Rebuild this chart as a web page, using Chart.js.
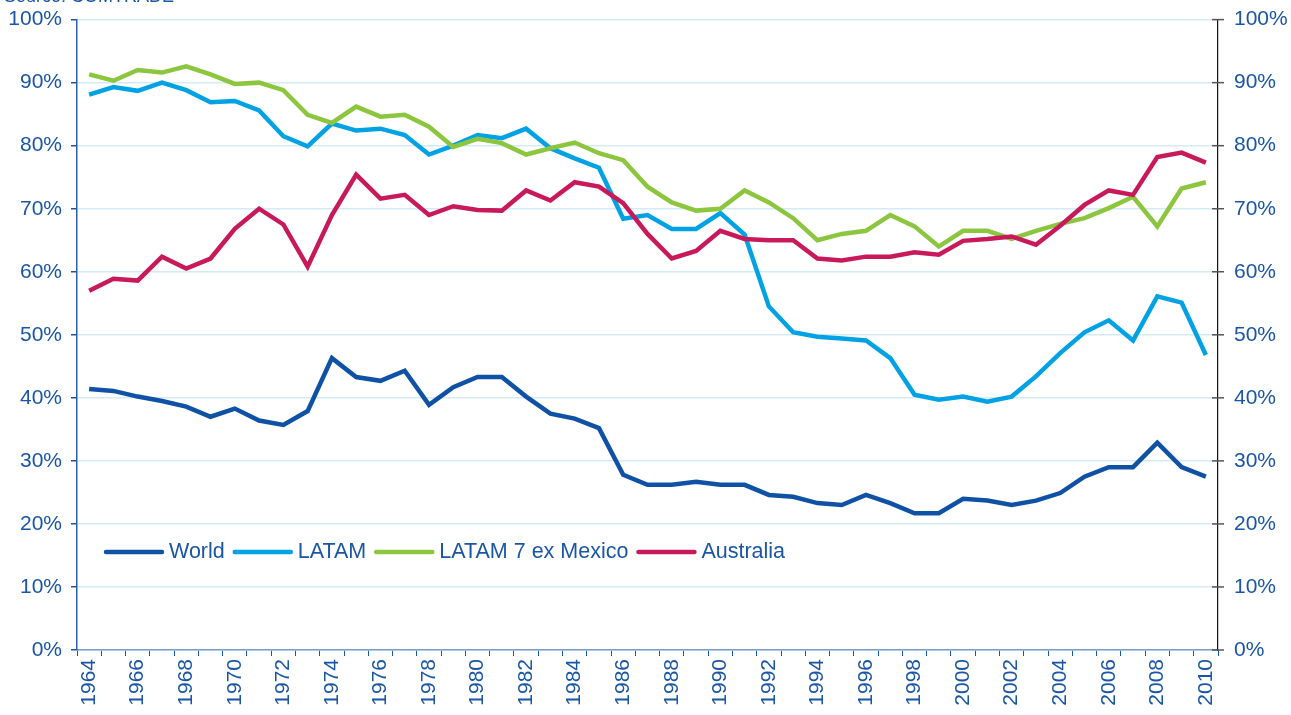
<!DOCTYPE html>
<html>
<head>
<meta charset="utf-8">
<script src="https://cdn.jsdelivr.net/npm/chart.js@4.4.1/dist/chart.umd.min.js"></script>
<style>
  html, body { margin: 0; padding: 0; background: #fff; overflow: hidden; }
  body { width: 1291px; height: 715px; position: relative; }
  #wrap { width: 1291px; height: 724px; position: absolute; left: 0; top: -9px; }
</style>
</head>
<body>
<div id="wrap"><canvas id="shareChart"></canvas></div>
<script>
// categories
const years = ['1964','1965','1966','1967','1968','1969','1970','1971','1972','1973',
  '1974','1975','1976','1977','1978','1979','1980','1981','1982','1983',
  '1984','1985','1986','1987','1988','1989','1990','1991','1992','1993',
  '1994','1995','1996','1997','1998','1999','2000','2001','2002','2003',
  '2004','2005','2006','2007','2008','2009','2010'];

// series (%)
const world = [41.4, 41.1, 40.2, 39.5, 38.6, 37.0, 38.3, 36.4, 35.7, 37.9,
  46.3, 43.3, 42.7, 44.3, 38.9, 41.7, 43.3, 43.3, 40.2, 37.5,
  36.7, 35.2, 27.8, 26.2, 26.2, 26.7, 26.2, 26.2, 24.6, 24.3,
  23.3, 23.0, 24.6, 23.3, 21.7, 21.7, 24.0, 23.7, 23.0, 23.7,
  24.9, 27.5, 29.0, 29.0, 32.9, 29.0, 27.5];

const latam = [88.1, 89.3, 88.7, 90.0, 88.8, 86.9, 87.1, 85.6, 81.5, 79.9,
  83.5, 82.4, 82.7, 81.7, 78.6, 80.0, 81.7, 81.2, 82.7, 79.6,
  78.0, 76.5, 68.4, 69.0, 66.8, 66.8, 69.3, 65.9, 54.5, 50.4,
  49.7, 49.4, 49.1, 46.3, 40.5, 39.7, 40.2, 39.4, 40.2, 43.4,
  47.1, 50.4, 52.3, 49.1, 56.1, 55.1, 46.8];

const latam7 = [91.3, 90.3, 92.0, 91.6, 92.6, 91.3, 89.8, 90.0, 88.8, 84.9,
  83.6, 86.2, 84.6, 84.9, 83.0, 79.8, 81.1, 80.4, 78.6, 79.6,
  80.5, 78.8, 77.7, 73.5, 71.0, 69.7, 70.0, 72.9, 71.0, 68.5,
  65.0, 66.0, 66.5, 69.0, 67.2, 64.0, 66.5, 66.5, 65.2, 66.5,
  67.6, 68.5, 70.1, 71.9, 67.2, 73.2, 74.2];

const australia = [57.0, 58.9, 58.6, 62.4, 60.5, 62.1, 66.8, 70.0, 67.5, 60.8,
  69.0, 75.4, 71.6, 72.2, 69.0, 70.4, 69.8, 69.7, 72.9, 71.3,
  74.2, 73.5, 70.9, 66.0, 62.1, 63.3, 66.5, 65.2, 65.0, 65.0,
  62.1, 61.8, 62.4, 62.4, 63.1, 62.7, 64.9, 65.2, 65.6, 64.3,
  67.3, 70.6, 72.9, 72.2, 78.2, 78.9, 77.3];

const seriesNames = ['World', 'LATAM', 'LATAM 7 ex Mexico', 'Australia'];
const sourceNote = 'Source: COMTRADE';

const textBlue = '#1A56A4';
const fontFamily = "'Liberation Sans', Arial, sans-serif";

// legend drawn inside the plot, plus the crossing ticks on the right axis
const extrasPlugin = {
    id: 'extras',
    afterDraw(chart) {
        const c = chart.ctx;
        const area = chart.chartArea;
        c.save();

        // right axis ticks crossing the line
        const y2 = chart.scales.y2;
        c.strokeStyle = '#555';
        c.lineWidth = 1.5;
        y2.ticks.forEach(t => {
            const py = y2.getPixelForValue(t.value);
            c.beginPath();
            c.moveTo(y2.left - 6, py);
            c.lineTo(y2.left + 6, py);
            c.stroke();
        });

        // source line, mostly cut off at the top
        c.fillStyle = textBlue;
        c.font = '18px ' + fontFamily;
        c.textBaseline = 'alphabetic';
        c.textAlign = 'left';
        c.fillText(sourceNote, 4, area.top - 17.5);

        // legend
        c.font = '21.5px ' + fontFamily;
        c.textBaseline = 'middle';
        let x = 106;
        const y = area.top + 532.5;
        chart.data.datasets.forEach(ds => {
            c.strokeStyle = ds.borderColor;
            c.lineWidth = 4.5;
            c.lineCap = 'round';
            c.beginPath();
            c.moveTo(x, y);
            c.lineTo(x + 56, y);
            c.stroke();
            x += 63;
            c.fillStyle = textBlue;
            c.fillText(ds.label, x, y);
            x += c.measureText(ds.label).width + 10;
        });
        c.restore();
    }
};

const ctx = document.getElementById('shareChart');

const lineStyle = {
    borderWidth: 4.5,
    pointRadius: 0,
    pointHoverRadius: 0,
    tension: 0,
    fill: false
};

new Chart(ctx, {
    type: 'line',
    data: {
        labels: years,
        datasets: [
            { ...lineStyle, label: seriesNames[0], data: world, borderColor: '#0F52A5', order: 4 },
            { ...lineStyle, label: seriesNames[1], data: latam, borderColor: '#00A2E3', order: 3 },
            { ...lineStyle, label: seriesNames[2], data: latam7, borderColor: '#8CC63F', order: 2 },
            { ...lineStyle, label: seriesNames[3], data: australia, borderColor: '#C81A5B', order: 1 }
        ]
    },
    options: {
        responsive: true,
        maintainAspectRatio: false,
        animation: false,
        layout: { padding: { top: 10, left: 0, right: 0, bottom: 0 } },
        plugins: {
            legend: { display: false },
            tooltip: { enabled: false }
        },
        scales: {
            x: {
                type: 'category',
                offset: true,
                grid: {
                    display: true,
                    offset: true,
                    drawOnChartArea: false,
                    drawTicks: true,
                    tickLength: 6,
                    tickColor: textBlue
                },
                border: { color: '#7D9BCB', width: 1.5 },
                ticks: {
                    autoSkip: false,
                    minRotation: 90,
                    maxRotation: 90,
                    padding: 3,
                    color: textBlue,
                    font: { family: fontFamily, size: 21 },
                    callback: (v, i) => (i % 2 === 0 ? years[i] : '')
                },
                afterFit: s => { s.height = 65; }
            },
            y: {
                position: 'left',
                min: 0,
                max: 100,
                grid: {
                    color: '#D3EAF7',
                    lineWidth: 1.5,
                    tickColor: textBlue,
                    tickLength: 6
                },
                border: { color: '#2A5FAE', width: 1.5 },
                ticks: {
                    stepSize: 10,
                    padding: 9,
                    color: textBlue,
                    font: { family: fontFamily, size: 21 },
                    callback: v => v + '%'
                },
                afterFit: s => { s.width = 77; }
            },
            y2: {
                position: 'right',
                min: 0,
                max: 100,
                grid: { drawOnChartArea: false, drawTicks: false },
                border: { color: '#111', width: 1.2 },
                ticks: {
                    stepSize: 10,
                    padding: 16,
                    color: textBlue,
                    font: { family: fontFamily, size: 21 },
                    callback: v => v + '%'
                },
                afterFit: s => { s.width = 73; }
            }
        }
    },
    plugins: [extrasPlugin]
});
</script>
</body>
</html>
